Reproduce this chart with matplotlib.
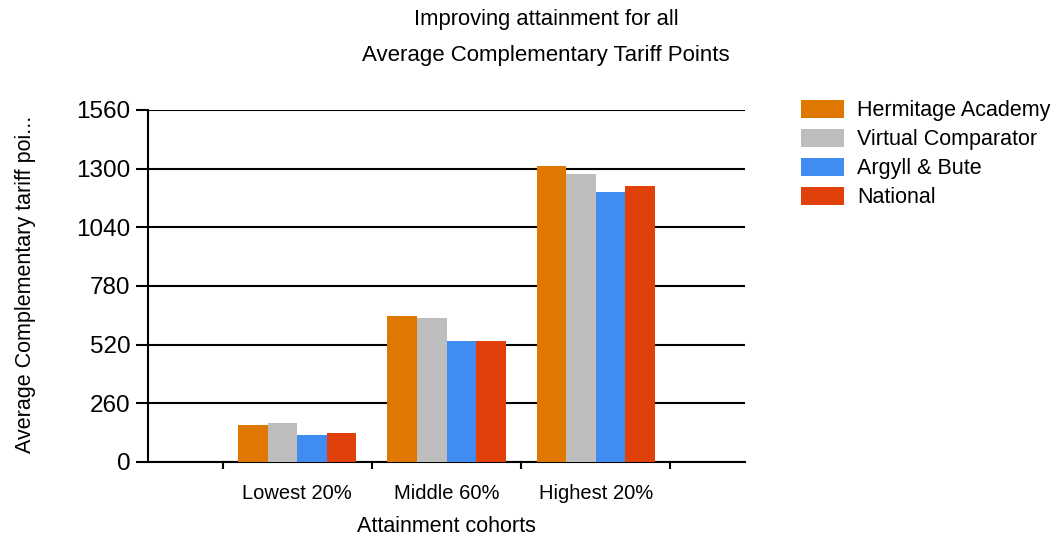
import matplotlib
matplotlib.use("Agg")
import matplotlib.pyplot as plt
import numpy as np

plt.rcParams['font.family'] = ['Liberation Sans', 'DejaVu Sans']

categories = ["Lowest 20%", "Middle 60%", "Highest 20%"]
series_names = ["Hermitage Academy", "Virtual Comparator", "Argyll & Bute", "National"]
hermitage = [162, 648, 1310]
virtual_comparator = [171, 637, 1275]
argyll_bute = [118, 538, 1195]
national = [127, 538, 1222]
series_values = [hermitage, virtual_comparator, argyll_bute, national]
colors = ["#DF7800", "#BDBDBD", "#418CF0", "#E0400A"]
yticks = [0, 260, 520, 780, 1040, 1300, 1560]

W, H = 1057, 538
fig = plt.figure(figsize=(W / 100, H / 100), dpi=100)
ax = fig.add_axes([148 / W, 1 - 462 / H, (745 - 148) / W, (462 - 110) / H])

x = np.arange(1, len(categories) + 1)
bw = 0.198
for i, (name, vals, c) in enumerate(zip(series_names, series_values, colors)):
    ax.bar(x + (i - 1.5) * bw, vals, width=bw, color=c, label=name, zorder=3)

ax.set_xlim(0, 4)
ax.set_ylim(0, 1560)
ax.set_yticks(yticks)
ax.set_yticklabels([str(v) for v in yticks], fontsize=17.5)
ax.yaxis.grid(True, color='black', linewidth=1.5, zorder=1)
ax.set_axisbelow(True)

ax.set_xticks(x)
ax.set_xticklabels(categories, fontsize=14.5)
ax.set_xticks(np.arange(0.5, 4, 1), minor=True)
ax.tick_params(axis='x', which='major', length=0, pad=16)
ax.tick_params(axis='x', which='minor', length=5, width=1.5, direction='out', color='black')
ax.tick_params(axis='y', length=9, width=1.5, pad=3.5, color='black')

for s in ['top', 'right']:
    ax.spines[s].set_visible(False)
ax.spines['left'].set_linewidth(1.5)
ax.spines['bottom'].set_linewidth(1.5)

ax.set_xlabel("Attainment cohorts", fontsize=15.5, labelpad=9)

fig.text(26 / W, 1 - 284 / H, "Average Complementary tariff poi...", rotation=90,
         fontsize=15.5, ha='center', va='center')

fig.text(546 / W, 1 - 25 / H, "Improving attainment for all", fontsize=15.8,
         ha='center', va='baseline')
fig.text(546 / W, 1 - 61 / H, "Average Complementary Tariff Points", fontsize=16,
         ha='center', va='baseline')

fig.legend(loc='upper left', bbox_to_anchor=(801 / W, 1 - 100 / H), frameon=False,
           fontsize=15.5, handlelength=2.0, handleheight=0.9, handletextpad=0.6,
           labelspacing=0.35, borderpad=0, borderaxespad=0)

fig.savefig("out.png", dpi=100)
